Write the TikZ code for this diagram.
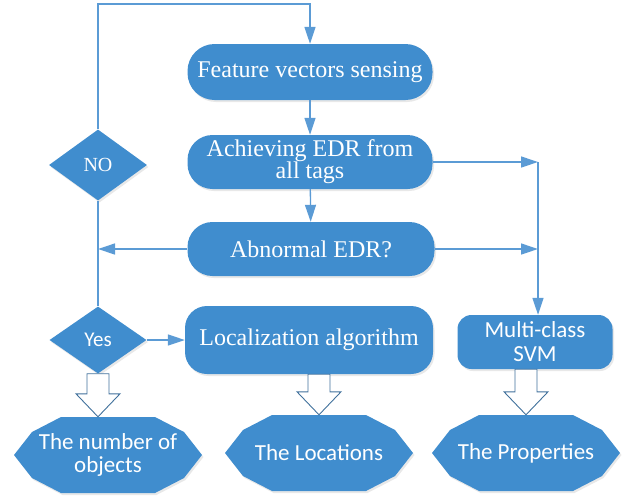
\documentclass[tikz,border=0pt]{standalone}
\usepackage{fontspec}
\setmainfont{Liberation Serif}
\newfontfamily\carl{Carlito}
\usetikzlibrary{arrows.meta,shapes.geometric,calc,shadows,backgrounds}
\definecolor{boxblue}{RGB}{64,141,206}
\definecolor{lineblue}{RGB}{91,155,213}
\definecolor{blkedge}{RGB}{65,113,156}
\newcommand\blockarr[2]{%
  \draw[blk] ($(#1)+(-11,0)$) -- ($(#2)+(-11,-23)$) -- ($(#2)+(-22,-23)$) -- (#2)
    -- ($(#2)+(22,-23)$) -- ($(#2)+(11,-23)$) -- ($(#1)+(11,0)$) -- cycle;}
\newcommand\decafill[1]{%
  \fill[boxblue,drop shadow={opacity=0.18,shadow xshift=1.5pt,shadow yshift=-2pt}]
    ($(#1)+(-94,0)$) -- ($(#1)+(-76,-23)$) -- ($(#1)+(-47,-38)$) -- ($(#1)+(47,-38)$)
    -- ($(#1)+(76,-23)$) -- ($(#1)+(94,0)$) -- ($(#1)+(76,23)$) -- ($(#1)+(47,38)$)
    -- ($(#1)+(-47,38)$) -- ($(#1)+(-76,23)$) -- cycle;}
\begin{document}
\begin{tikzpicture}[x=1pt,y=-1pt,
  shd/.style={drop shadow={opacity=0.18,shadow xshift=1.5pt,shadow yshift=-2pt}},
  flow/.style={shd,draw=none,fill=boxblue,text=white,rounded corners=#1,align=center,
    font=\fontsize{24}{22}\selectfont,inner sep=0pt},
  dia/.style={shd,diamond,draw=none,fill=boxblue,text=white,inner sep=0pt},
  outbox/.style={draw=none,inner sep=0pt,minimum width=188pt,minimum height=76pt,
    align=center,text=white,font=\carl\fontsize{23}{23}\selectfont},
  line/.style={draw=lineblue,line width=1.3pt},
  arr/.style={line,-{Triangle[length=17pt,width=11pt]}},
  blk/.style={draw=blkedge,fill=white,line width=0.9pt,line join=miter}]
\useasboundingbox (0,0) rectangle (631,498);

\node[flow=27,minimum width=245pt,minimum height=56pt] (feat) at (310,72) {Feature vectors sensing};
\node[flow=25,minimum width=245pt,minimum height=54pt] (achv) at (310,162) {Achieving EDR from\\all tags};
\node[flow=25,minimum width=247pt,minimum height=54pt] (abn) at (311,249) {Abnormal EDR?};
\node[flow=22,minimum width=248pt,minimum height=68pt] (loc) at (309,340) {Localization algorithm};
\node[flow=14,font=\carl\fontsize{23}{24}\selectfont,minimum width=155pt,minimum height=54pt] (svm) at (535,342) {Multi-class\\SVM};

\node[dia,minimum width=98pt,minimum height=71pt,font=\fontsize{20}{20}\selectfont] (no) at (98,165) {NO};
\node[dia,minimum width=97pt,minimum height=67pt,font=\carl\fontsize{21}{21}\selectfont] (yes) at (98,340) {Yes};

\node[outbox] (obj) at (108,455) {The number of\\objects};
\node[outbox] (locs) at (319,453) {The Locations};
\node[outbox] (props) at (526,453) {The Properties};
\begin{pgfonlayer}{background}
\decafill{obj}
\decafill{locs}
\decafill{props}
\end{pgfonlayer}

\coordinate (topL) at (98,4);
\coordinate (jL) at (98,249);
\coordinate (rT) at (538,162);
\coordinate (rM) at (538,249);

\draw[arr] (no.north) -- (topL) -| (feat.north);
\draw[arr] (feat) -- (achv);
\draw[arr] (achv) -- (abn);
\draw[arr] (abn.west) -- (jL);
\draw[line] (no.south) -- (yes.north);
\draw[arr] (yes.east) -- (loc.west);
\draw[arr] (achv.east) -- (rT);
\draw[arr] (abn.east) -- (rM);
\draw[arr] (rT) -- (rT |- svm.north);

\coordinate (b1s) at (yes.south);
\coordinate (b1e) at (yes.south |- obj.north);
\coordinate (b2s) at (locs.north |- loc.south);
\coordinate (b2e) at (locs.north);
\coordinate (b3s) at (props.north |- svm.south);
\coordinate (b3e) at (props.north);
\blockarr{b1s}{b1e}
\blockarr{b2s}{b2e}
\blockarr{b3s}{b3e}
\end{tikzpicture}
\end{document}
